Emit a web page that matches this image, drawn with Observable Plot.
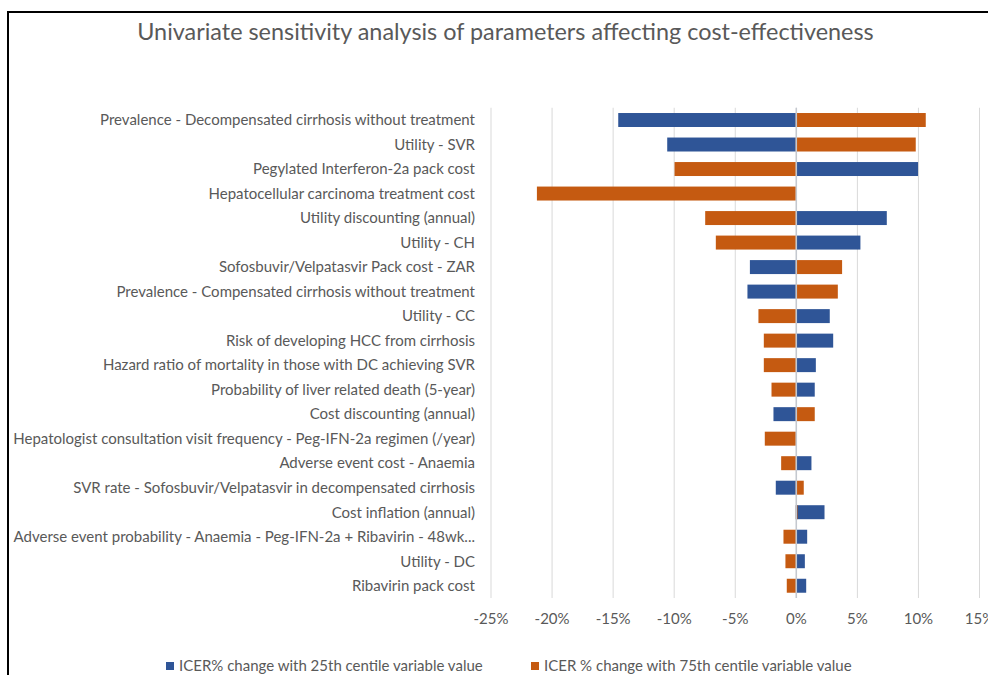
<!DOCTYPE html>
<html>
<head>
<meta charset="utf-8">
<script src="https://cdn.jsdelivr.net/npm/d3@7"></script>
<script src="https://cdn.jsdelivr.net/npm/@observablehq/plot@0.6"></script>
<style>
  html, body { margin: 0; padding: 0; background: #fff; }
  #wrap { position: relative; width: 988px; height: 675px; overflow: hidden; font-family: Lato, "Open Sans", sans-serif; color: #595959; }
  #chart { position: absolute; left: 0; top: 0; }
  #title { position: absolute; left: 0; width: 1011px; top: 17px; text-align: center; font-size: 23.4px; color: #595959; white-space: nowrap; }
  #border-top { position: absolute; left: 7px; top: 11px; width: 990px; height: 2px; background: #000; }
  #border-left { position: absolute; left: 7px; top: 11px; width: 2px; height: 700px; background: #000; }
  .leg { position: absolute; top: 656px; font-size: 15px; color: #595959; white-space: nowrap; }
  .sw { display: inline-block; width: 8px; height: 8px; margin-right: 5px; vertical-align: 1px; }
</style>
</head>
<body>
<div id="wrap">
  <div id="chart"></div>
  <div id="border-top"></div>
  <div id="border-left"></div>
  <div id="title">Univariate sensitivity analysis of parameters affecting cost-effectiveness</div>
  <div class="leg" style="left:166px"><span class="sw" style="background:#2F5597"></span>ICER% change with 25th centile variable value</div>
  <div class="leg" style="left:531px"><span class="sw" style="background:#C55A11"></span>ICER % change with 75th centile variable value</div>
</div>
<script>
const categories = [
  "Prevalence - Decompensated cirrhosis without treatment",
  "Utility - SVR",
  "Pegylated Interferon-2a pack cost",
  "Hepatocellular carcinoma treatment cost",
  "Utility discounting (annual)",
  "Utility - CH",
  "Sofosbuvir/Velpatasvir Pack cost - ZAR",
  "Prevalence - Compensated cirrhosis without treatment",
  "Utility - CC",
  "Risk of developing HCC from cirrhosis",
  "Hazard ratio of mortality in those with DC achieving SVR",
  "Probability of liver related death (5-year)",
  "Cost discounting (annual)",
  "Hepatologist consultation visit frequency - Peg-IFN-2a regimen (/year)",
  "Adverse event cost - Anaemia",
  "SVR rate - Sofosbuvir/Velpatasvir in decompensated cirrhosis",
  "Cost inflation (annual)",
  "Adverse event probability - Anaemia - Peg-IFN-2a + Ribavirin - 48wk...",
  "Utility - DC",
  "Ribavirin pack cost"
];
// ICER % change with 25th centile variable value
const centile25 = [-14.54, -10.53, 10.01, 0, 7.45, 5.29, -3.76, -3.96, 2.78, 3.06,
                   1.64, 1.55, -1.83, 0, 1.28, -1.64, 2.35, 0.93, 0.74, 0.85];
// ICER % change with 75th centile variable value
const centile75 = [10.64, 9.82, -9.93, -21.2, -7.42, -6.55, 3.79, 3.44, -3.06, -2.62,
                   -2.62, -1.99, 1.55, -2.54, -1.2, 0.65, 0.14, -1.01, -0.85, -0.74];
const xTicks = [-25, -20, -15, -10, -5, 0, 5, 10, 15];

const d25 = categories.map((c, i) => ({category: c, value: centile25[i]}));
const d75 = categories.map((c, i) => ({category: c, value: centile75[i]}));

const chart = Plot.plot({
  width: 988,
  height: 675,
  marginLeft: 490.5,
  marginRight: 9,
  marginTop: 107.75,
  marginBottom: 77,
  style: {fontFamily: "Lato, 'Open Sans', sans-serif", fontSize: "15px", color: "#595959", background: "transparent", overflow: "visible"},
  x: {domain: [-25, 15], ticks: xTicks, tickFormat: d => d + "%"},
  y: {type: "band", domain: categories, paddingInner: 0.43, paddingOuter: 0.215, round: false},
  marks: [
    Plot.gridX(xTicks, {stroke: "#d9d9d9", strokeOpacity: 1, strokeWidth: 1}),
    Plot.barX(d25, {x: "value", y: "category", fill: "#2F5597"}),
    Plot.barX(d75, {x: "value", y: "category", fill: "#C55A11"}),
    Plot.ruleX([0], {stroke: "#c4c8cf", strokeWidth: 1.5}),
    Plot.axisX(xTicks, {tickSize: 0, tickPadding: 15, tickFormat: d => d + "%", fill: "#595959", fontSize: 15, label: null}),
    Plot.axisY({tickSize: 0, tickPadding: 16, fill: "#595959", fontSize: 15, label: null, textOverflow: null})
  ]
});
document.getElementById("chart").appendChild(chart);
</script>
</body>
</html>
